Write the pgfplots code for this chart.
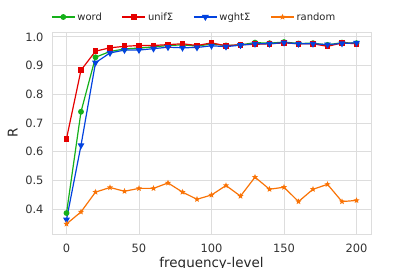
\documentclass[border=0pt]{standalone}
\usepackage{fontspec}
\setmainfont{DejaVu Sans}
\usepackage{pgfplots}
\pgfplotsset{compat=1.18}
\definecolor{cgreen}{HTML}{15B01A}
\definecolor{cred}{HTML}{E50000}
\definecolor{cblue}{HTML}{0343DF}
\definecolor{corange}{HTML}{F97306}
\definecolor{cgrid}{HTML}{DDDDDD}
\pgfdeclareplotmark{fstar}{%
 \pgfpathmoveto{\pgfpointpolar{90}{\pgfplotmarksize}}%
 \pgfpathlineto{\pgfpointpolar{126}{0.45\pgfplotmarksize}}%
 \pgfpathlineto{\pgfpointpolar{162}{\pgfplotmarksize}}%
 \pgfpathlineto{\pgfpointpolar{198}{0.45\pgfplotmarksize}}%
 \pgfpathlineto{\pgfpointpolar{234}{\pgfplotmarksize}}%
 \pgfpathlineto{\pgfpointpolar{270}{0.45\pgfplotmarksize}}%
 \pgfpathlineto{\pgfpointpolar{306}{\pgfplotmarksize}}%
 \pgfpathlineto{\pgfpointpolar{342}{0.45\pgfplotmarksize}}%
 \pgfpathlineto{\pgfpointpolar{18}{\pgfplotmarksize}}%
 \pgfpathlineto{\pgfpointpolar{54}{0.45\pgfplotmarksize}}%
 \pgfpathclose\pgfusepathqfillstroke}
\begin{document}
\begin{tikzpicture}
\useasboundingbox (-52bp,-34bp) rectangle (360bp,234bp);
\begin{axis}[
 scale only axis, width=319bp, height=202bp,
 xmin=-10, xmax=210, ymin=0.313, ymax=1.017,
 xtick={0,50,100,150,200}, ytick={0.4,0.5,0.6,0.7,0.8,0.9,1.0},
 /pgf/number format/assume math mode=true,
 yticklabel style={/pgf/number format/fixed, /pgf/number format/fixed zerofill, /pgf/number format/precision=1, xshift=-5bp},
 tick label style={font=\fontsize{11.5}{13}\selectfont, text=black!80},
 xticklabel style={yshift=-6bp},
 major tick length=0pt,
 grid=major, grid style={cgrid, line width=0.8bp},
 axis line style={cgrid, line width=0.8bp},
 xlabel={frequency-level}, ylabel={R},
 label style={font=\fontsize{13.5}{15}\selectfont, text=black!85},
 xlabel style={at={(axis description cs:0.5,0)}, anchor=north, inner sep=0pt, yshift=-23bp},
 ylabel style={at={(axis description cs:-0.123,0.5)}, anchor=center, inner sep=0pt},
 legend columns=4,
 legend style={draw=none, fill=none, at={(axis description cs:0,1)}, anchor=west,
   yshift=15bp, xshift=-1bp, inner xsep=0pt,
   font=\fontsize{10}{12}\selectfont, text=black!85,
   /tikz/every even column/.append style={column sep=18bp}},
 legend image code/.code={\draw[mark repeat=2,mark phase=2] plot coordinates {(0bp,0bp)(11.5bp,0bp)(23bp,0bp)};},
 every axis plot/.append style={line width=1.2bp},
]
\addplot[cgreen, mark=*, mark size=2.3bp] coordinates {
(0,0.386)(10,0.739)(20,0.929)(30,0.949)(40,0.958)(50,0.961)(60,0.965)(70,0.970)(80,0.972)(90,0.968)(100,0.975)(110,0.970)(120,0.972)(130,0.980)(140,0.978)(150,0.982)(160,0.977)(170,0.978)(180,0.972)(190,0.980)(200,0.978)};
\addlegendentry{word}
\addplot[cred, mark=square*, mark size=2.3bp] coordinates {
(0,0.645)(10,0.884)(20,0.950)(30,0.962)(40,0.967)(50,0.970)(60,0.970)(70,0.973)(80,0.976)(90,0.970)(100,0.979)(110,0.969)(120,0.973)(130,0.974)(140,0.976)(150,0.979)(160,0.976)(170,0.976)(180,0.967)(190,0.979)(200,0.976)};
\addlegendentry{unifΣ}
\addplot[cblue, mark=triangle*, mark options={rotate=180}, mark size=2.8bp] coordinates {
(0,0.363)(10,0.622)(20,0.910)(30,0.944)(40,0.954)(50,0.954)(60,0.959)(70,0.964)(80,0.962)(90,0.963)(100,0.969)(110,0.966)(120,0.971)(130,0.976)(140,0.976)(150,0.980)(160,0.976)(170,0.976)(180,0.973)(190,0.977)(200,0.979)};
\addlegendentry{wghtΣ}
\addplot[corange, mark=fstar, mark size=1.6bp] coordinates {
(0,0.348)(10,0.390)(20,0.459)(30,0.475)(40,0.462)(50,0.472)(60,0.472)(70,0.491)(80,0.459)(90,0.434)(100,0.449)(110,0.482)(120,0.445)(130,0.511)(140,0.469)(150,0.476)(160,0.426)(170,0.469)(180,0.486)(190,0.426)(200,0.430)};
\addlegendentry{random}
\end{axis}
\end{tikzpicture}
\end{document}
